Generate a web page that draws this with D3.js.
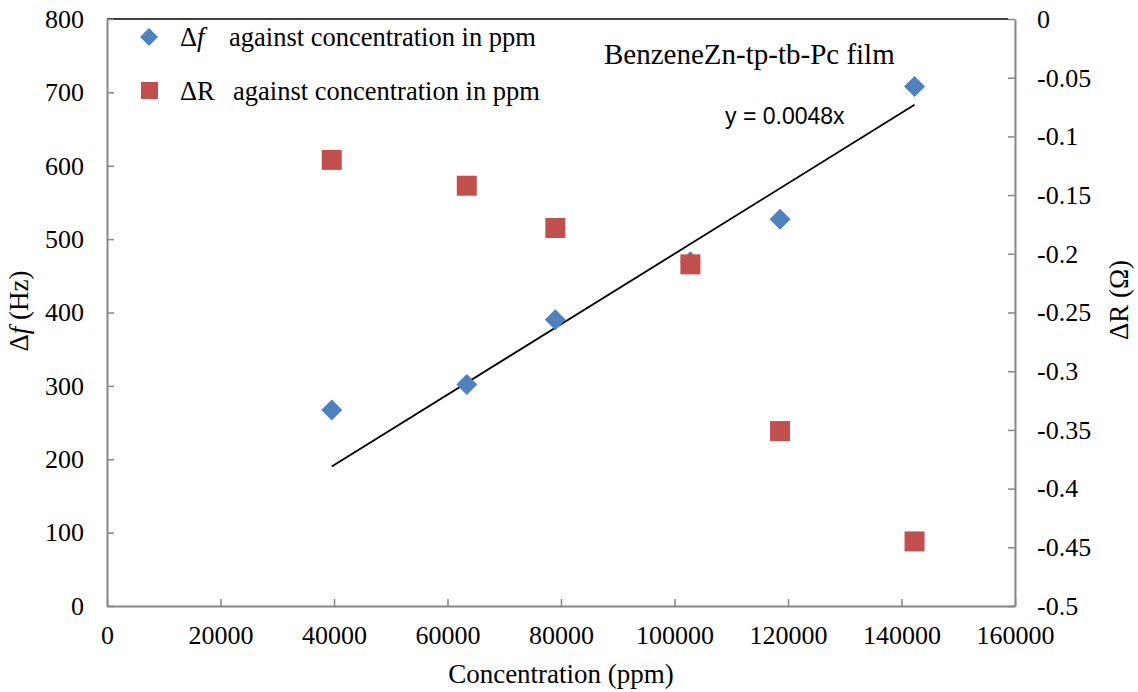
<!DOCTYPE html>
<html>
<head>
<meta charset="utf-8">
<script src="https://cdn.jsdelivr.net/npm/d3@7"></script>
<style>
  body { margin: 0; background: #fff; }
  text { font-family: 'Liberation Serif', 'Times New Roman', serif; fill: #000; }
  .tick text { font-family: 'Liberation Serif', serif !important; }
</style>
</head>
<body>
<div id="chart"></div>
<script>
// Data
const concentration = [39600, 63400, 79000, 102800, 118600, 142300];
const deltaF = [267, 302, 390, 469, 527, 708];
const deltaR = [-0.12, -0.142, -0.178, -0.209, -0.351, -0.445];
const slope = 0.0048;
const xTicks = [0, 20000, 40000, 60000, 80000, 100000, 120000, 140000, 160000];
const yLeftTicks = [0, 100, 200, 300, 400, 500, 600, 700, 800];
const yRightTicks = [0, -0.05, -0.1, -0.15, -0.2, -0.25, -0.3, -0.35, -0.4, -0.45, -0.5];

const svgW = 1138, svgH = 692;
const leftMargin = 107, topMargin = 19;
const plotW = 908, plotH = 587;
const axisColor = '#868686';
const blue = '#4F81BD', red = '#C0504D';
const serifFont = 'Liberation Serif';

const svg = d3.select('#chart')
  .append('svg')
  .attr('width', svgW)
  .attr('height', svgH);

const g = svg.append('g')
  .attr('transform', 'translate(' + leftMargin + ',' + topMargin + ')');

// Scales
const x = d3.scaleLinear().domain([0, 160000]).range([0, plotW]);
const yL = d3.scaleLinear().domain([0, 800]).range([plotH, 0]);
const yR = d3.scaleLinear().domain([-0.5, 0]).range([plotH, 0]);

// top border
g.append('line')
  .attr('x1', 0).attr('x2', plotW - 7)
  .attr('y1', 0).attr('y2', 0)
  .attr('stroke', '#000').attr('stroke-width', 1.5);

// Axes (ticks point inward), plain hyphen for minus like the original
const xAxis = d3.axisBottom(x).tickValues(xTicks).tickSizeInner(-7).tickSizeOuter(0).tickPadding(20).tickFormat(d => String(d));
const yAxisL = d3.axisLeft(yL).tickValues(yLeftTicks).tickSizeInner(-7).tickSizeOuter(0).tickPadding(23).tickFormat(d => String(d));
const yAxisR = d3.axisRight(yR).tickValues(yRightTicks).tickSizeInner(-7).tickSizeOuter(0).tickPadding(22).tickFormat(d => String(d));

function styleAxis(sel) {
  sel.attr('font-family', serifFont).attr('font-size', 26);
  sel.select('.domain').attr('stroke', axisColor).attr('stroke-width', 2);
  sel.selectAll('.tick line').attr('stroke', axisColor).attr('stroke-width', 1.5);
  sel.selectAll('.tick text')
    .attr('font-family', serifFont)
    .attr('font-size', 26)
    .attr('fill', '#000');
}

g.append('g')
  .attr('transform', 'translate(0,' + plotH + ')')
  .call(xAxis).call(styleAxis);

g.append('g').call(yAxisL).call(styleAxis);

g.append('g')
  .attr('transform', 'translate(' + plotW + ',0)')
  .call(yAxisR).call(styleAxis);

// Trend line y = 0.0048x over data range
const xMin = d3.min(concentration), xMax = d3.max(concentration);
g.append('line')
  .attr('x1', x(xMin)).attr('y1', yL(slope * xMin))
  .attr('x2', x(xMax)).attr('y2', yL(slope * xMax))
  .attr('stroke', '#000').attr('stroke-width', 1.8);

const fData = concentration.map((c, i) => ({ c: c, v: deltaF[i] }));
const rData = concentration.map((c, i) => ({ c: c, v: deltaR[i] }));

// Blue diamonds
g.selectAll('.diamond')
  .data(fData)
  .enter()
  .append('path')
  .attr('class', 'diamond')
  .attr('d', 'M0,-10.5L10.5,0L0,10.5L-10.5,0Z')
  .attr('transform', d => 'translate(' + x(d.c) + ',' + yL(d.v) + ')')
  .attr('fill', blue);

// Red squares
g.selectAll('.square')
  .data(rData)
  .enter()
  .append('rect')
  .attr('class', 'square')
  .attr('x', d => x(d.c) - 10)
  .attr('y', d => yR(d.v) - 10)
  .attr('width', 20)
  .attr('height', 20)
  .attr('fill', red);

// Legend
const legend = svg.append('g');
legend.append('path')
  .attr('d', 'M0,-9L9,0L0,9L-9,0Z')
  .attr('transform', 'translate(149,37)')
  .attr('fill', blue);
legend.append('rect')
  .attr('x', 141).attr('y', 82).attr('width', 17).attr('height', 17)
  .attr('fill', red);

const l1 = legend.append('text').attr('x', 180).attr('y', 46).style('font-size', '26.5px');
l1.append('tspan').text('Δ');
l1.append('tspan').style('font-style', 'italic').text('f');
l1.append('tspan').attr('x', 229).text('against concentration in ppm');

const l2 = legend.append('text').attr('x', 180).attr('y', 100).style('font-size', '26.5px');
l2.append('tspan').text('ΔR');
l2.append('tspan').attr('x', 233).text('against concentration in ppm');

// Title inside plot
svg.append('text')
  .attr('x', 604).attr('y', 64)
  .style('font-size', '29px')
  .text('BenzeneZn-tp-tb-Pc film');

// Trend equation
svg.append('text')
  .attr('x', 725).attr('y', 124)
  .style('font-family', "'Liberation Sans', Arial, sans-serif")
  .style('font-size', '23px')
  .text('y = 0.0048x');

// Axis labels
svg.append('text')
  .attr('x', 561).attr('y', 683)
  .attr('text-anchor', 'middle')
  .style('font-size', '27px')
  .text('Concentration (ppm)');

const ylab = svg.append('text')
  .attr('transform', 'translate(28,311) rotate(-90)')
  .attr('text-anchor', 'middle')
  .style('font-size', '27px');
ylab.append('tspan').text('Δ');
ylab.append('tspan').style('font-style', 'italic').text('f');
ylab.append('tspan').text(' (Hz)');

svg.append('text')
  .attr('transform', 'translate(1128,300) rotate(-90)')
  .attr('text-anchor', 'middle')
  .style('font-size', '27px')
  .text('ΔR (Ω)');
</script>
</body>
</html>
